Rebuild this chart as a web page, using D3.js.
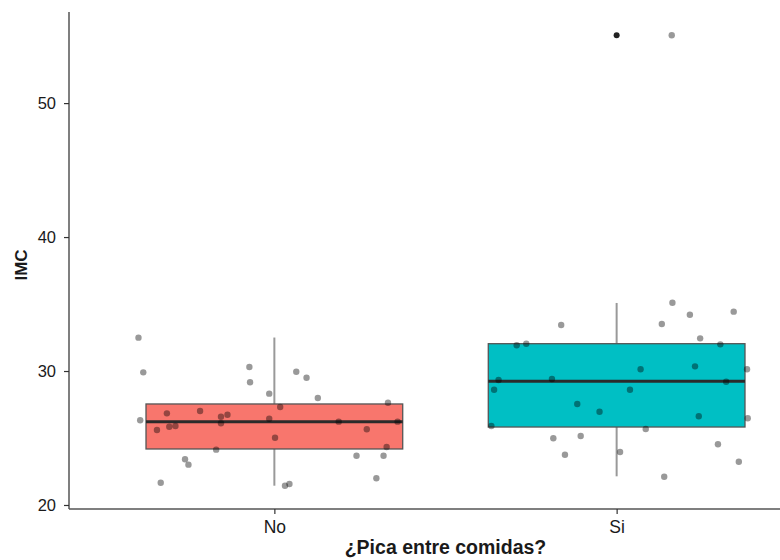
<!DOCTYPE html>
<html>
<head>
<meta charset="utf-8">
<script src="https://cdn.jsdelivr.net/npm/d3@7/dist/d3.min.js"></script>
<style>
  html, body { margin: 0; padding: 0; background: #fff; }
  svg { display: block; }
  text { font-family: "Liberation Sans", Arial, sans-serif; }
</style>
</head>
<body>
<svg id="chart" width="780" height="560"></svg>
<script>
// ---- data ----
const categories = ["No", "Si"];
const boxColors = ["#F8766D", "#00BFC4"];
// box stats: [lowerWhisker, Q1, median, Q3, upperWhisker]
const statsNo = [21.44, 24.18, 26.22, 27.54, 32.5];
const statsSi = [22.14, 25.82, 29.23, 32.04, 35.08];
const outliersSi = [55.07];
const yTicks = [20, 30, 40, 50];
// jittered points: x offset (category units), IMC value
const jitterNoX = [-0.397,-0.383,-0.392,-0.343,-0.314,-0.307,-0.289,-0.261,-0.251,-0.332,-0.217,-0.170,-0.156,-0.156,-0.137,-0.073,-0.071,-0.015,-0.015,0.017,0.002,0.031,0.044,0.064,0.094,0.127,0.188,0.240,0.270,0.298,0.319,0.328,0.332,0.360];
const valuesNo  = [32.49,29.90,26.32,25.60,26.84,25.84,25.90,23.41,23.01,21.66,27.01,24.13,26.59,26.10,26.74,30.30,29.16,28.31,26.44,27.31,25.02,21.44,21.57,29.95,29.50,27.99,26.22,23.68,25.65,21.99,23.68,24.33,27.63,26.22];
const jitterSiX = [-0.366,-0.358,-0.345,-0.292,-0.264,-0.189,-0.185,-0.162,-0.151,-0.115,-0.105,-0.050,0.010,0.039,0.070,0.085,0.132,0.139,0.163,0.214,0.229,0.240,0.244,0.296,0.303,0.320,0.342,0.357,0.381,0.383,0.161];
const valuesSi  = [25.90,28.60,29.33,31.92,32.04,29.40,24.98,33.43,23.75,27.54,25.15,26.96,23.96,28.60,30.13,25.67,33.51,22.11,35.10,34.20,30.35,26.62,32.44,24.53,31.99,29.20,34.43,23.23,30.13,26.47,55.07];

// ---- layout ----
const panel = {left: 69, right: 822, top: 12, bottom: 509};
const svg = d3.select("#chart");

const x = d3.scaleLinear().domain([0.4, 2.6]).range([panel.left, panel.right]);
const y = d3.scaleLinear().domain([19.7, 56.8]).range([panel.bottom, panel.top]);
const boxW = 0.75;

const groups = [
  {cat: categories[0], idx: 1, stats: statsNo, outliers: [], color: boxColors[0], jx: jitterNoX, vals: valuesNo},
  {cat: categories[1], idx: 2, stats: statsSi, outliers: outliersSi, color: boxColors[1], jx: jitterSiX, vals: valuesSi}
];

const g = svg.append("g");

groups.forEach(gr => {
  const cx = x(gr.idx);
  const half = (x(gr.idx + boxW / 2) - x(gr.idx - boxW / 2)) / 2;
  const [lw, q1, med, q3, uw] = gr.stats;
  // whiskers
  g.append("line").attr("x1", cx).attr("x2", cx).attr("y1", y(q3)).attr("y2", y(uw))
    .attr("stroke", "#999").attr("stroke-width", 2);
  g.append("line").attr("x1", cx).attr("x2", cx).attr("y1", y(q1)).attr("y2", y(lw))
    .attr("stroke", "#999").attr("stroke-width", 2);
  // box
  g.append("rect").attr("x", cx - half).attr("y", y(q3))
    .attr("width", 2 * half).attr("height", y(q1) - y(q3))
    .attr("fill", gr.color).attr("stroke", "#555").attr("stroke-width", 1.3);
  // median
  g.append("line").attr("x1", cx - half).attr("x2", cx + half)
    .attr("y1", y(med)).attr("y2", y(med))
    .attr("stroke", "#2b2b2b").attr("stroke-width", 3);
  // outliers
  gr.outliers.forEach(o => {
    g.append("circle").attr("cx", cx).attr("cy", y(o)).attr("r", 3)
      .attr("fill", "#222");
  });
});

// jitter points
groups.forEach(gr => {
  g.selectAll(null).data(gr.vals.map((v, i) => ({v, dx: gr.jx[i]})))
    .enter().append("circle")
    .attr("cx", d => x(gr.idx + d.dx))
    .attr("cy", d => y(d.v))
    .attr("r", 3.2)
    .attr("fill", "#000")
    .attr("fill-opacity", 0.4);
});

// axes
const yAxis = d3.axisLeft(y).tickValues(yTicks).tickSize(5).tickPadding(8);
const ya = svg.append("g").attr("transform", `translate(${panel.left},0)`).call(yAxis);
ya.select(".domain").attr("stroke", "#555").attr("stroke-width", 1.5).attr("d", `M0,${panel.top}V${panel.bottom}`);
ya.selectAll(".tick line").attr("stroke", "#333").attr("stroke-width", 1.2);
ya.selectAll(".tick text").attr("font-size", 16.5).attr("fill", "#1a1a1a")
  .style("font-family", "'Liberation Sans', Arial, sans-serif");

const xb = d3.scaleOrdinal().domain(categories).range([x(1), x(2)]);
const xAxis = d3.axisBottom(xb).tickSize(5).tickPadding(7);
const xa = svg.append("g").attr("transform", `translate(0,${panel.bottom})`).call(xAxis);
xa.select(".domain").attr("stroke", "#555").attr("stroke-width", 1.5).attr("d", `M${panel.left},0H${panel.right}`);
xa.selectAll(".tick line").attr("stroke", "#333").attr("stroke-width", 1.2);
xa.selectAll(".tick text").attr("font-size", 17.5).attr("fill", "#1a1a1a")
  .style("font-family", "'Liberation Sans', Arial, sans-serif");

// axis titles
svg.append("text").attr("x", (panel.left + panel.right) / 2).attr("y", 554)
  .attr("text-anchor", "middle").attr("font-size", 19.5).attr("font-weight", "bold")
  .attr("fill", "#1a1a1a").text("¿Pica entre comidas?");
svg.append("text").attr("transform", `translate(27,265) rotate(-90)`)
  .attr("text-anchor", "middle").attr("font-size", 17).attr("font-weight", "bold")
  .attr("fill", "#1a1a1a").text("IMC");
</script>
</body>
</html>
